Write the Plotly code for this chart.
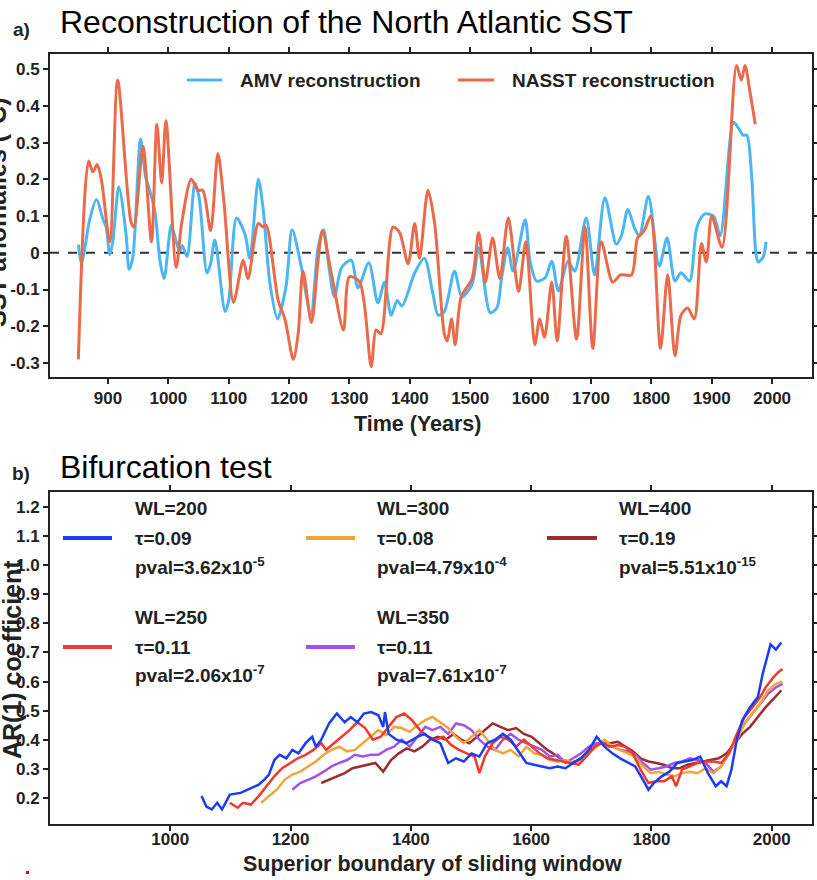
import plotly.graph_objects as go

# ---------------- data: panel a ----------------
amv_years = [851, 856, 862, 869, 881, 892, 897, 903, 908, 918, 930, 935, 941, 954, 962, 970, 978, 986, 993,
             1005, 1013, 1019, 1023, 1031, 1044, 1051, 1064, 1070, 1077, 1094, 1100, 1113, 1127, 1135, 1149,
             1157, 1168, 1181, 1195, 1205, 1220, 1236, 1248, 1257, 1266, 1275, 1287, 1303, 1314, 1332, 1347,
             1358, 1369, 1379, 1387, 1408, 1424, 1438, 1447, 1457, 1474, 1486, 1503, 1514, 1533, 1544, 1552,
             1562, 1571, 1591, 1599, 1610, 1624, 1635, 1646, 1662, 1673, 1692, 1706, 1723, 1742, 1751, 1761,
             1772, 1780, 1795, 1813, 1826, 1839, 1849, 1863, 1874, 1881, 1889, 1903, 1914, 1936, 1944, 1952,
             1958, 1966, 1973, 1977, 1985, 1990]
amv_vals = [0.022, -0.03, 0.015, 0.085, 0.145, 0.09, 0.07, -0.005, 0.03, 0.18, 0.05, -0.045, -0.015, 0.31, 0.21,
            0.165, 0.11, -0.02, -0.07, 0.075, 0.03, 0.005, 0.02, -0.01, 0.19, 0.15, -0.055, -0.03, 0.035, -0.16,
            -0.13, 0.095, 0.05, -0.015, 0.2, 0.12, -0.08, -0.18, -0.09, 0.063, -0.036, -0.17, 0.014, 0.063,
            -0.04, -0.12, -0.04, -0.02, -0.095, -0.027, -0.136, -0.08, -0.17, -0.13, -0.145, -0.055, -0.015,
            -0.11, -0.17, -0.16, -0.05, -0.12, -0.086, 0.014, -0.163, -0.15, -0.068, 0.014, -0.05, 0.09, -0.023,
            -0.077, -0.068, -0.023, -0.104, -0.023, -0.05, 0.095, -0.06, 0.15, 0.023, 0.05, 0.118, 0.068, 0.045,
            0.154, -0.036, 0.04, -0.077, -0.054, -0.077, 0.06, 0.092, 0.106, 0.1, 0.047, 0.355, 0.34, 0.32,
            0.32, 0.21, 0.0, -0.025, -0.012, 0.03]

nasst_years = [851, 868, 875, 882, 889, 903, 916, 938, 943, 958, 972, 981, 989, 996, 1013, 1022, 1038, 1049,
               1057, 1070, 1082, 1092, 1108, 1124, 1132, 1149, 1157, 1162, 1182, 1193, 1207, 1215, 1223, 1237,
               1248, 1255, 1271, 1290, 1300, 1317, 1336, 1344, 1352, 1372, 1383, 1397, 1408, 1416, 1430, 1441,
               1457, 1462, 1469, 1475, 1485, 1503, 1514, 1525, 1537, 1549, 1563, 1580, 1592, 1607, 1615, 1623,
               1635, 1644, 1659, 1676, 1690, 1703, 1717, 1736, 1749, 1767, 1777, 1788, 1799, 1815, 1827, 1839,
               1849, 1860, 1871, 1883, 1891, 1900, 1917, 1941, 1949, 1955, 1964, 1972]
nasst_vals = [-0.29, 0.25, 0.22, 0.24, 0.2, 0.03, 0.47, 0.085, 0.07, 0.29, 0.03, 0.35, 0.19, 0.36, -0.04, 0.08,
              0.2, 0.17, 0.17, 0.06, 0.27, 0.14, -0.135, -0.02, -0.07, 0.08, 0.07, 0.075, -0.13, -0.18, -0.29,
              -0.22, -0.05, -0.19, -0.02, 0.06, -0.065, -0.21, -0.065, -0.08, -0.31, -0.21, -0.22, 0.07, 0.055,
              -0.03, 0.08, -0.015, 0.17, 0.08, -0.22, -0.24, -0.18, -0.25, -0.12, -0.07, 0.055, -0.08, 0.04,
              -0.07, 0.095, -0.105, 0.03, -0.25, -0.18, -0.23, -0.08, -0.24, 0.045, -0.235, 0.07, -0.26, 0.03,
              -0.08, -0.06, -0.06, 0.04, 0.06, 0.1, -0.26, -0.06, -0.28, -0.17, -0.15, -0.18, 0.025, -0.025,
              0.1, 0.015, 0.51, 0.47, 0.51, 0.43, 0.35]

# ---------------- data: panel b ----------------
wl200_years = [1052, 1060, 1069, 1078, 1086, 1099, 1117, 1134, 1147, 1156, 1164, 1173, 1182, 1193, 1203, 1213,
               1225, 1236, 1242, 1251, 1264, 1277, 1290, 1300, 1311, 1322, 1334, 1346, 1354, 1357, 1363, 1376,
               1393, 1411, 1423, 1436, 1449, 1462, 1475, 1488, 1501, 1514, 1527, 1540, 1553, 1566, 1579, 1592,
               1605, 1618, 1631, 1644, 1657, 1670, 1683, 1696, 1709, 1722, 1735, 1748, 1761, 1773, 1786, 1795,
               1804, 1817, 1830, 1843, 1855, 1868, 1881, 1894, 1907, 1916, 1925, 1933, 1942, 1951, 1964, 1977,
               1985, 1994, 1998, 2007, 2016]
wl200_vals = [0.206, 0.17, 0.16, 0.183, 0.16, 0.211, 0.217, 0.234, 0.245, 0.262, 0.28, 0.33, 0.348, 0.336,
              0.365, 0.353, 0.388, 0.41, 0.376, 0.4, 0.456, 0.49, 0.46, 0.478, 0.46, 0.49, 0.495, 0.484, 0.444,
              0.495, 0.42, 0.4, 0.388, 0.41, 0.42, 0.4, 0.388, 0.32, 0.336, 0.325, 0.353, 0.342, 0.388, 0.4,
              0.42, 0.4, 0.36, 0.32, 0.314, 0.308, 0.302, 0.308, 0.302, 0.32, 0.336, 0.365, 0.41, 0.376, 0.353,
              0.336, 0.32, 0.308, 0.262, 0.228, 0.251, 0.274, 0.29, 0.32, 0.325, 0.33, 0.342, 0.285, 0.24,
              0.257, 0.24, 0.297, 0.4, 0.467, 0.512, 0.547, 0.626, 0.694, 0.728, 0.71, 0.734]

wl250_years = [1099, 1112, 1121, 1134, 1147, 1160, 1173, 1186, 1199, 1212, 1225, 1238, 1251, 1259, 1272, 1285,
               1298, 1311, 1324, 1337, 1350, 1363, 1376, 1389, 1402, 1415, 1428, 1441, 1454, 1467, 1480, 1493,
               1506, 1514, 1523, 1536, 1549, 1562, 1575, 1588, 1601, 1614, 1627, 1640, 1653, 1666, 1679, 1692,
               1705, 1718, 1731, 1744, 1756, 1769, 1782, 1795, 1808, 1821, 1834, 1841, 1851, 1864, 1877, 1890,
               1903, 1916, 1929, 1942, 1955, 1968, 1981, 1990, 2003, 2011, 2018]
wl250_vals = [0.183, 0.166, 0.183, 0.177, 0.206, 0.24, 0.274, 0.302, 0.32, 0.336, 0.348, 0.365, 0.388, 0.365,
              0.388, 0.41, 0.433, 0.46, 0.44, 0.4, 0.41, 0.444, 0.478, 0.49, 0.467, 0.433, 0.41, 0.4, 0.41,
              0.382, 0.365, 0.353, 0.342, 0.285, 0.342, 0.388, 0.41, 0.4, 0.376, 0.4, 0.376, 0.353, 0.336, 0.33,
              0.325, 0.32, 0.314, 0.342, 0.376, 0.388, 0.376, 0.382, 0.376, 0.353, 0.297, 0.251, 0.257, 0.257,
              0.274, 0.24, 0.297, 0.308, 0.32, 0.325, 0.325, 0.32, 0.353, 0.42, 0.478, 0.512, 0.547, 0.58, 0.615,
              0.632, 0.643]

wl300_years = [1151, 1164, 1177, 1190, 1203, 1216, 1229, 1242, 1255, 1268, 1281, 1294, 1307, 1320, 1333, 1346,
               1359, 1372, 1385, 1398, 1411, 1424, 1436, 1449, 1462, 1475, 1488, 1501, 1514, 1527, 1540, 1553,
               1566, 1579, 1592, 1605, 1618, 1631, 1644, 1657, 1670, 1683, 1696, 1709, 1722, 1735, 1748, 1761,
               1773, 1786, 1799, 1812, 1825, 1838, 1851, 1864, 1877, 1890, 1903, 1916, 1929, 1942, 1955, 1968,
               1981, 1994, 2007, 2018]
wl300_vals = [0.183, 0.206, 0.228, 0.262, 0.28, 0.29, 0.308, 0.325, 0.348, 0.365, 0.376, 0.36, 0.365, 0.388,
              0.41, 0.433, 0.416, 0.444, 0.44, 0.427, 0.45, 0.467, 0.478, 0.46, 0.44, 0.41, 0.388, 0.41, 0.433,
              0.4, 0.365, 0.353, 0.365, 0.342, 0.376, 0.353, 0.348, 0.33, 0.325, 0.33, 0.32, 0.33, 0.353, 0.376,
              0.4, 0.376, 0.365, 0.353, 0.342, 0.308, 0.285, 0.29, 0.28, 0.274, 0.285, 0.29, 0.285, 0.302, 0.285,
              0.308, 0.353, 0.4, 0.456, 0.49, 0.524, 0.57, 0.592, 0.6]

wl350_years = [1203, 1216, 1229, 1242, 1255, 1268, 1281, 1294, 1307, 1320, 1333, 1346, 1359, 1372, 1385, 1398,
               1411, 1424, 1436, 1449, 1462, 1475, 1488, 1501, 1514, 1527, 1540, 1553, 1566, 1579, 1592, 1605,
               1618, 1631, 1644, 1657, 1670, 1683, 1696, 1709, 1722, 1735, 1748, 1761, 1773, 1786, 1799, 1812,
               1825, 1838, 1851, 1864, 1877, 1890, 1903, 1916, 1929, 1942, 1955, 1968, 1981, 1994, 2007, 2018]
wl350_vals = [0.228, 0.251, 0.262, 0.274, 0.29, 0.308, 0.32, 0.33, 0.348, 0.342, 0.348, 0.348, 0.365, 0.376,
              0.4, 0.376, 0.41, 0.444, 0.433, 0.444, 0.42, 0.456, 0.45, 0.433, 0.4, 0.376, 0.365, 0.4, 0.42, 0.4,
              0.388, 0.376, 0.365, 0.342, 0.348, 0.32, 0.336, 0.353, 0.376, 0.388, 0.388, 0.376, 0.365, 0.36,
              0.348, 0.32, 0.297, 0.302, 0.308, 0.32, 0.325, 0.336, 0.33, 0.32, 0.29, 0.308, 0.353, 0.41, 0.456,
              0.49, 0.524, 0.558, 0.58, 0.592]

wl400_years = [1251, 1264, 1277, 1290, 1303, 1315, 1328, 1341, 1354, 1367, 1380, 1393, 1406, 1419, 1432, 1445,
               1458, 1471, 1484, 1497, 1510, 1523, 1536, 1549, 1562, 1575, 1588, 1601, 1614, 1627, 1640, 1653,
               1666, 1679, 1692, 1705, 1718, 1731, 1744, 1756, 1769, 1782, 1795, 1808, 1821, 1834, 1847, 1860,
               1873, 1886, 1899, 1912, 1925, 1938, 1951, 1964, 1977, 1990, 2003, 2016]
wl400_vals = [0.251, 0.262, 0.274, 0.285, 0.302, 0.308, 0.314, 0.32, 0.29, 0.33, 0.353, 0.37, 0.36, 0.376, 0.4,
              0.41, 0.4, 0.42, 0.4, 0.388, 0.41, 0.433, 0.456, 0.444, 0.433, 0.44, 0.42, 0.41, 0.388, 0.365,
              0.348, 0.33, 0.32, 0.33, 0.353, 0.376, 0.393, 0.388, 0.393, 0.376, 0.36, 0.336, 0.325, 0.32, 0.314,
              0.302, 0.302, 0.314, 0.32, 0.325, 0.33, 0.336, 0.353, 0.388, 0.42, 0.444, 0.478, 0.512, 0.54, 0.57]

top_yticks = [0.5, 0.4, 0.3, 0.2, 0.1, 0, -0.1, -0.2, -0.3]
top_yticktext = ["0.5", "0.4", "0.3", "0.2", "0.1", "0", "-0.1", "-0.2", "-0.3"]
top_xticks = [900, 1000, 1100, 1200, 1300, 1400, 1500, 1600, 1700, 1800, 1900, 2000]
bot_xticks = [1000, 1200, 1400, 1600, 1800, 2000]
bot_yticks = [0.2, 0.3, 0.4, 0.5, 0.6, 0.7, 0.8, 0.9, 1.0, 1.1, 1.2]

wl_labels = ["WL=200", "WL=250", "WL=300", "WL=350", "WL=400"]
wl_taus = ["τ=0.09", "τ=0.11", "τ=0.08", "τ=0.11", "τ=0.19"]
wl_pvals = ["pval=3.62x10<sup>-5</sup>", "pval=2.06x10<sup>-7</sup>", "pval=4.79x10<sup>-4</sup>",
            "pval=7.61x10<sup>-7</sup>", "pval=5.51x10<sup>-15</sup>"]

# ---------------- styles ----------------
C_AMV = "#4cb6f2"
C_NASST = "#ea6a4c"
WL_COLORS = ["#1a3cf5", "#ee3b2b", "#f2a33a", "#a052ec", "#9a2e2e"]
FONT = "Liberation Sans, Arial, sans-serif"

W, H = 817, 880
ML, MR, MT, MB = 50, 5, 54, 56
PW = W - ML - MR
PH = H - MT - MB


def px2x(px):
    return (px - ML) / PW


def py2y(py):
    return (H - MB - py) / PH


fig = go.Figure()

fig.add_trace(go.Scatter(x=amv_years, y=amv_vals, mode="lines",
                         line=dict(color=C_AMV, width=3, shape="spline", smoothing=0.8),
                         xaxis="x", yaxis="y", showlegend=False))
fig.add_trace(go.Scatter(x=nasst_years, y=nasst_vals, mode="lines",
                         line=dict(color=C_NASST, width=3, shape="spline", smoothing=0.8),
                         xaxis="x", yaxis="y", showlegend=False))

bot_series = [(wl200_years, wl200_vals), (wl250_years, wl250_vals), (wl300_years, wl300_vals),
              (wl350_years, wl350_vals), (wl400_years, wl400_vals)]
draw_order = [4, 3, 2, 1, 0]
for i in draw_order:
    xs, ys = bot_series[i]
    fig.add_trace(go.Scatter(x=xs, y=ys, mode="lines", line=dict(color=WL_COLORS[i], width=2.5),
                             xaxis="x2", yaxis="y2", showlegend=False))

tickfont = dict(family=FONT, size=17, color="#222", weight="bold")
axis_common = dict(showline=True, linecolor="#222", linewidth=2, mirror="ticks", ticks="outside",
                   ticklen=5, tickwidth=1.5, tickcolor="#222", showgrid=False, zeroline=False,
                   tickfont=tickfont, automargin=False)

fig.update_layout(
    width=W, height=H, margin=dict(l=ML, r=MR, t=MT, b=MB, autoexpand=False),
    paper_bgcolor="white", plot_bgcolor="white",
    xaxis=dict(domain=[0, 1], anchor="y", range=[804, 2066], tickvals=top_xticks, **axis_common),
    yaxis=dict(domain=[py2y(377), 1.0], anchor="x", range=[-0.338, 0.541], tickvals=top_yticks,
               ticktext=top_yticktext, **axis_common),
    xaxis2=dict(domain=[0, 1], anchor="y2", range=[800, 2067], tickvals=bot_xticks,
                ticklabelstandoff=-6, **axis_common),
    yaxis2=dict(domain=[0, py2y(492)], anchor="x2", range=[0.11, 1.252], tickvals=bot_yticks,
                tickformat=".1f", **axis_common),
)

shapes = []
annotations = []

# zero reference line
shapes.append(dict(type="line", xref="x domain", yref="y", x0=0, x1=1, y0=0, y1=0,
                   line=dict(color="#333", width=2, dash="dash"), layer="below"))

# small red mark seen at the bottom-left corner of the reference
shapes.append(dict(type="rect", xref="paper", yref="paper", x0=px2x(26), x1=px2x(29),
                   y0=py2y(874), y1=py2y(871), line=dict(width=0), fillcolor="#d01010"))

# top legend
leg_font = dict(family=FONT, size=19, color="#222", weight="bold")
for (x0, x1, tx, col, txt) in [(187, 222, 238, C_AMV, "AMV reconstruction"),
                               (458, 494, 510, C_NASST, "NASST reconstruction")]:
    shapes.append(dict(type="line", xref="paper", yref="paper", x0=px2x(x0), x1=px2x(x1),
                       y0=py2y(80), y1=py2y(80), line=dict(color=col, width=3)))
    annotations.append(dict(xref="paper", yref="paper", x=px2x(tx), y=py2y(80), text=txt, showarrow=False,
                            xanchor="left", yanchor="middle", font=leg_font))

# bottom legend
col_pos = [(63, 112, 133), (306, 355, 375), (547, 597, 617)]
row_pos = [(508, 538, 566), (617, 647, 674)]
slots = {0: (0, 0), 2: (0, 1), 4: (0, 2), 1: (1, 0), 3: (1, 1)}
for i in range(5):
    r, c = slots[i]
    lx0, lx1, tx = col_pos[c]
    y1, y2, y3 = row_pos[r]
    shapes.append(dict(type="line", xref="paper", yref="paper", x0=px2x(lx0), x1=px2x(lx1),
                       y0=py2y(y2), y1=py2y(y2), line=dict(color=WL_COLORS[i], width=4)))
    for yy, txt in [(y1, wl_labels[i]), (y2, wl_taus[i]), (y3, wl_pvals[i])]:
        annotations.append(dict(xref="paper", yref="paper", x=px2x(tx), y=py2y(yy), text=txt,
                                showarrow=False, xanchor="left", yanchor="middle", font=leg_font))


def ann(px, py, text, size, xanchor="center", bold=True, angle=0, color="#222"):
    f = dict(family=FONT, size=size, color=color)
    if bold:
        f["weight"] = "bold"
    return dict(xref="paper", yref="paper", x=px2x(px), y=py2y(py), text=text, showarrow=False,
                xanchor=xanchor, yanchor="middle", textangle=angle, font=f)


annotations += [
    ann(21, 30, "a)", 19),
    ann(21, 474, "b)", 19),
    ann(58, 22, "Reconstruction of the North Atlantic SST", 32, xanchor="left", bold=False, color="black"),
    ann(58, 467, "Bifurcation test", 32, xanchor="left", bold=False, color="black"),
    ann(417, 424, "Time (Years)", 21.5),
    ann(432, 864, "Superior boundary of sliding window", 21.5),
    ann(-3, 212, "SST anomalies (°C)", 25, angle=-90),
    ann(12, 660, "AR(1) coefficient", 25, angle=-90),
]

fig.update_layout(shapes=shapes, annotations=annotations)
fig.write_html("out.html", config={"displayModeBar": False},
               post_script="document.body.style.margin='0px';document.body.style.overflow='hidden';")
